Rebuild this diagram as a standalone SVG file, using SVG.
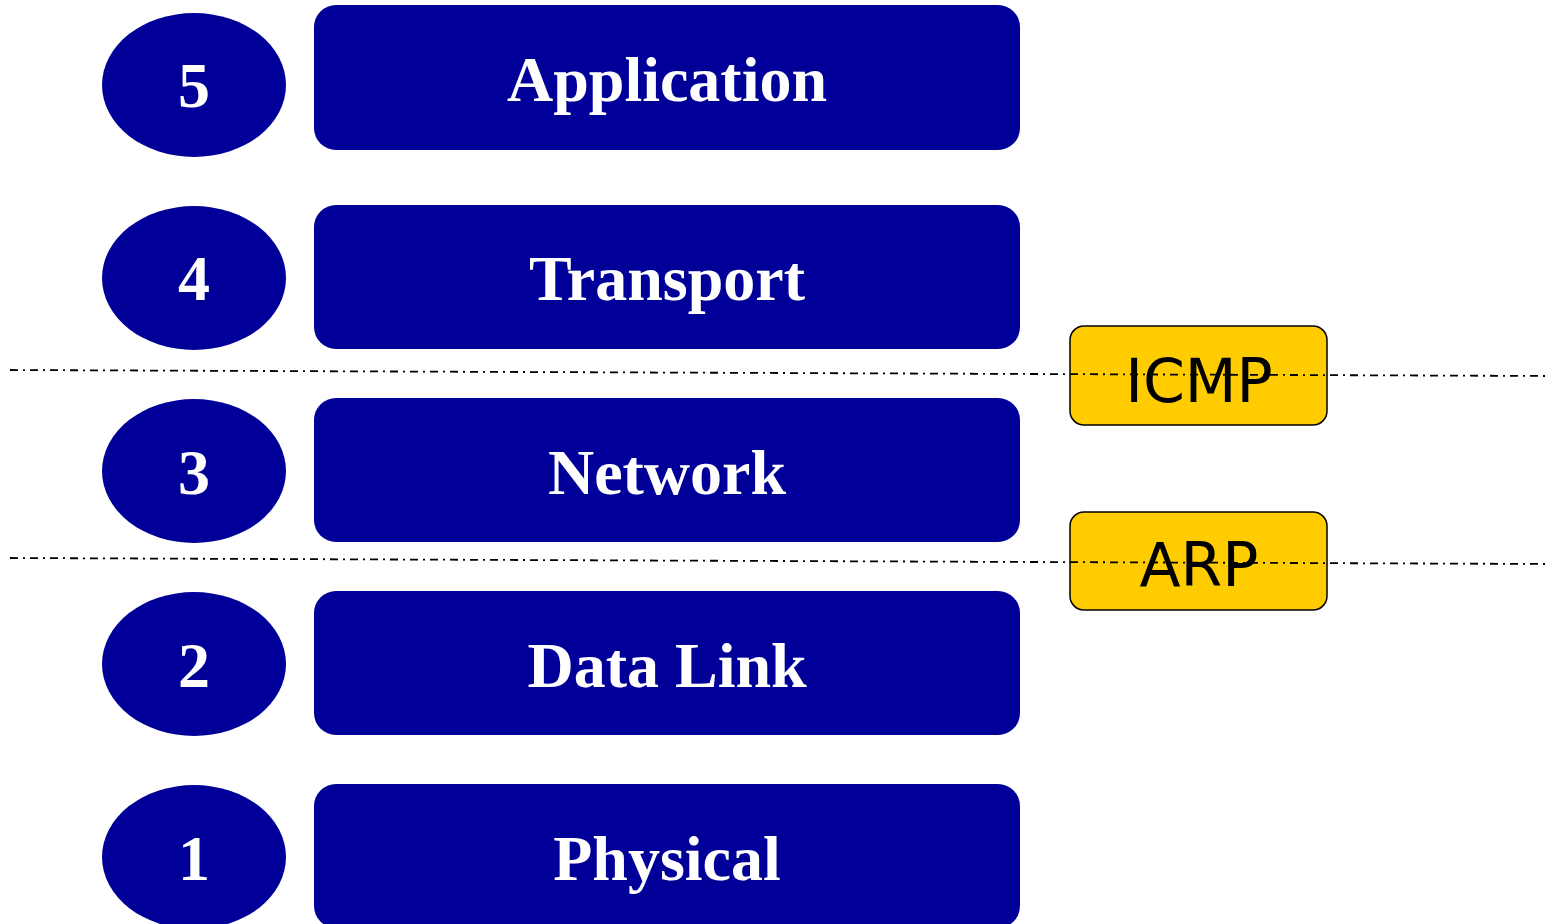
<svg xmlns="http://www.w3.org/2000/svg" width="1548" height="924" viewBox="0 0 1548 924">
<style>
.ell{fill:#000099}
.lay{fill:#000099}
.t{font-family:"Liberation Serif","Times New Roman",serif;font-weight:bold;font-size:64px;fill:#fff;text-anchor:middle}
.box{fill:#FFCC00;stroke:#000;stroke-width:1.5}
.bt{font-family:"DejaVu Sans",Verdana,sans-serif;font-size:60px;fill:#000;text-anchor:middle}
.dl{stroke:#000;stroke-width:1.8;fill:none;stroke-dasharray:8 5 2 5}
</style>
<rect width="1548" height="924" fill="#fff"/>
<g id="layer5">
<ellipse class="ell" cx="194" cy="85" rx="92" ry="72"/>
<text class="t" x="194" y="107">5</text>
<rect class="lay" x="314" y="5" width="706" height="145" rx="22"/>
<text class="t" x="667" y="101">Application</text>
</g>
<g id="layer4">
<ellipse class="ell" cx="194" cy="278" rx="92" ry="72"/>
<text class="t" x="194" y="300">4</text>
<rect class="lay" x="314" y="205" width="706" height="144" rx="22"/>
<text class="t" x="667" y="300">Transport</text>
</g>
<g id="layer3">
<ellipse class="ell" cx="194" cy="471" rx="92" ry="72"/>
<text class="t" x="194" y="494">3</text>
<rect class="lay" x="314" y="398" width="706" height="144" rx="22"/>
<text class="t" x="667" y="494">Network</text>
</g>
<g id="layer2">
<ellipse class="ell" cx="194" cy="664" rx="92" ry="72"/>
<text class="t" x="194" y="687">2</text>
<rect class="lay" x="314" y="591" width="706" height="144" rx="22"/>
<text class="t" x="667" y="687">Data Link</text>
</g>
<g id="layer1">
<ellipse class="ell" cx="194" cy="857" rx="92" ry="72"/>
<text class="t" x="194" y="880">1</text>
<rect class="lay" x="314" y="784" width="706" height="144" rx="22"/>
<text class="t" x="667" y="880">Physical</text>
</g>
<g id="icmp">
<rect class="box" x="1070" y="326" width="257" height="99" rx="14"/>
<text class="bt" x="1199" y="402">ICMP</text>
</g>
<g id="arp">
<rect class="box" x="1070" y="512" width="257" height="98" rx="14"/>
<text class="bt" x="1199" y="586">ARP</text>
</g>
<g id="connectors">
<line class="dl" x1="10" y1="370" x2="1548" y2="376"/>
<line class="dl" x1="10" y1="558" x2="1548" y2="564"/>
</g>
</svg>
